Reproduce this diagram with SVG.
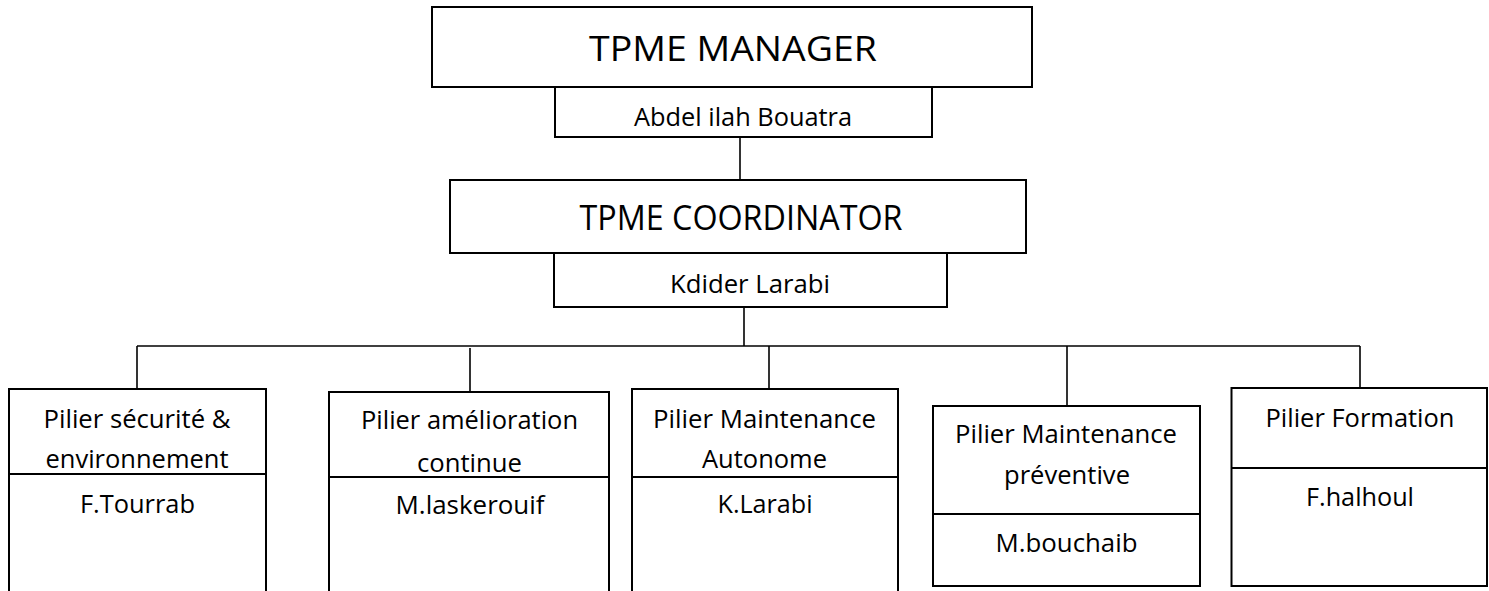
<svg xmlns="http://www.w3.org/2000/svg" width="1489" height="591" viewBox="0 0 1489 591">
  <style>
    .box { fill: #ffffff; stroke: #000000; stroke-width: 2; }
    .wire { fill: none; stroke: #000000; stroke-width: 1.6; }
    text { font-family: "Open Sans", "Liberation Sans", sans-serif; fill: #000000; text-anchor: middle; }
    .title { font-size: 34.5px; }
    .label { font-size: 25.5px; }
  </style>
  <rect width="1489" height="591" fill="#ffffff"/>

  <!-- connectors -->
  <g id="connectors">
    <line class="wire" x1="740" y1="137" x2="740" y2="180"/>
    <line class="wire" x1="744" y1="307" x2="744" y2="346"/>
    <line class="wire" x1="137" y1="346" x2="1360" y2="346"/>
    <line class="wire" x1="137" y1="346" x2="137" y2="389"/>
    <line class="wire" x1="470" y1="348" x2="470" y2="392"/>
    <line class="wire" x1="769" y1="346" x2="769" y2="389"/>
    <line class="wire" x1="1067" y1="346" x2="1067" y2="406"/>
    <line class="wire" x1="1360" y1="346" x2="1360" y2="388"/>
  </g>

  <!-- manager -->
  <g id="manager">
    <rect class="box" x="432" y="7" width="600" height="80"/>
    <text class="title" x="733" y="61" textLength="288" lengthAdjust="spacingAndGlyphs">TPME MANAGER</text>
    <rect class="box" x="555" y="87" width="377" height="50"/>
    <text class="label" x="743" y="126" textLength="218" lengthAdjust="spacingAndGlyphs">Abdel ilah Bouatra</text>
  </g>

  <!-- coordinator -->
  <g id="coordinator">
    <rect class="box" x="450" y="180" width="576" height="73"/>
    <text class="title" x="741" y="230" textLength="323" lengthAdjust="spacingAndGlyphs">TPME COORDINATOR</text>
    <rect class="box" x="554" y="253" width="393" height="54"/>
    <text class="label" x="750" y="293" textLength="160" lengthAdjust="spacingAndGlyphs">Kdider Larabi</text>
  </g>

  <!-- pillar: safety & environment -->
  <g id="pilier-securite">
    <rect class="box" x="9" y="389" width="257" height="220"/>
    <line class="box" x1="9" y1="474" x2="266" y2="474"/>
    <text class="label" x="137" y="428" textLength="187" lengthAdjust="spacingAndGlyphs">Pilier sécurité &amp;</text>
    <text class="label" x="137" y="468" textLength="183" lengthAdjust="spacingAndGlyphs">environnement</text>
    <text class="label" x="137.5" y="513" textLength="115" lengthAdjust="spacingAndGlyphs">F.Tourrab</text>
  </g>

  <!-- pillar: continuous improvement -->
  <g id="pilier-amelioration">
    <rect class="box" x="329" y="392" width="280" height="220"/>
    <line class="box" x1="329" y1="477" x2="609" y2="477"/>
    <text class="label" x="469.5" y="429" textLength="217" lengthAdjust="spacingAndGlyphs">Pilier amélioration</text>
    <text class="label" x="469.5" y="472" textLength="105" lengthAdjust="spacingAndGlyphs">continue</text>
    <text class="label" x="470" y="514" textLength="149" lengthAdjust="spacingAndGlyphs">M.laskerouif</text>
  </g>

  <!-- pillar: autonomous maintenance -->
  <g id="pilier-autonome">
    <rect class="box" x="632" y="389" width="266" height="220"/>
    <line class="box" x1="632" y1="477" x2="898" y2="477"/>
    <text class="label" x="764.5" y="428" textLength="223" lengthAdjust="spacingAndGlyphs">Pilier Maintenance</text>
    <text class="label" x="764.5" y="468" textLength="125" lengthAdjust="spacingAndGlyphs">Autonome</text>
    <text class="label" x="765" y="513" textLength="95" lengthAdjust="spacingAndGlyphs">K.Larabi</text>
  </g>

  <!-- pillar: preventive maintenance -->
  <g id="pilier-preventive">
    <rect class="box" x="933" y="406" width="267" height="180"/>
    <line class="box" x1="933" y1="514" x2="1200" y2="514"/>
    <text class="label" x="1066" y="443" textLength="222" lengthAdjust="spacingAndGlyphs">Pilier Maintenance</text>
    <text class="label" x="1067" y="484" textLength="126" lengthAdjust="spacingAndGlyphs">préventive</text>
    <text class="label" x="1066.5" y="552" textLength="142" lengthAdjust="spacingAndGlyphs">M.bouchaib</text>
  </g>

  <!-- pillar: training -->
  <g id="pilier-formation">
    <rect class="box" x="1231.5" y="388" width="255.5" height="198"/>
    <line class="box" x1="1231.5" y1="468" x2="1487" y2="468"/>
    <text class="label" x="1360" y="427" textLength="189" lengthAdjust="spacingAndGlyphs">Pilier Formation</text>
    <text class="label" x="1360" y="506" textLength="108" lengthAdjust="spacingAndGlyphs">F.halhoul</text>
  </g>
</svg>
